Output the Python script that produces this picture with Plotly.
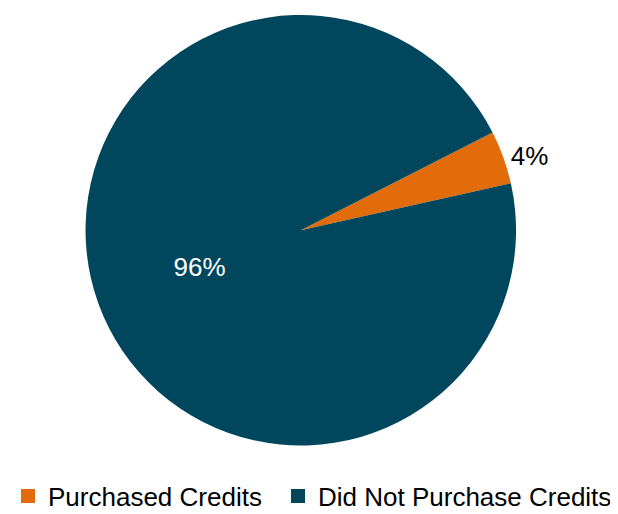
import plotly.graph_objects as go

labels = ["Purchased Credits", "Did Not Purchase Credits"]
values = [4, 96]
colors = ["#E36C0A", "#00475E"]

fig = go.Figure(go.Pie(
    labels=labels,
    values=values,
    sort=False,
    direction="clockwise",
    rotation=63,
    marker=dict(colors=colors),
    textinfo="percent",
    texttemplate="%{percent:.0%}",
    textposition=["outside", "inside"],
    insidetextfont=dict(color="white", size=26),
    outsidetextfont=dict(color="black", size=26),
    insidetextorientation="horizontal",
    domain=dict(x=[14 / 618, 1], y=[0.059, 1]),
    showlegend=False,
))

# legend entries, one per legend so they sit side by side on one row
for i, (lab, col) in enumerate(zip(labels, colors)):
    fig.add_scatter(
        x=[None], y=[None], mode="markers", name=lab,
        marker=dict(symbol="square", size=14, color=col),
        legend="legend" if i == 0 else "legend2",
        showlegend=True, hoverinfo="skip",
    )

legend_style = dict(orientation="h", xref="container", yref="container",
                    xanchor="left", y=26 / 514, yanchor="middle",
                    font=dict(size=26), itemwidth=30, bgcolor="rgba(0,0,0,0)")

fig.update_layout(
    width=618, height=514,
    margin=dict(l=0, r=0, t=7, b=0),
    paper_bgcolor="white",
    plot_bgcolor="white",
    font=dict(family="Liberation Sans, Arial, sans-serif", size=26, color="black"),
    xaxis=dict(visible=False),
    yaxis=dict(visible=False),
    legend=dict(x=-0.01, **legend_style),
    legend2=dict(x=270 / 618, **legend_style),
)

fig.write_html("out.html")
